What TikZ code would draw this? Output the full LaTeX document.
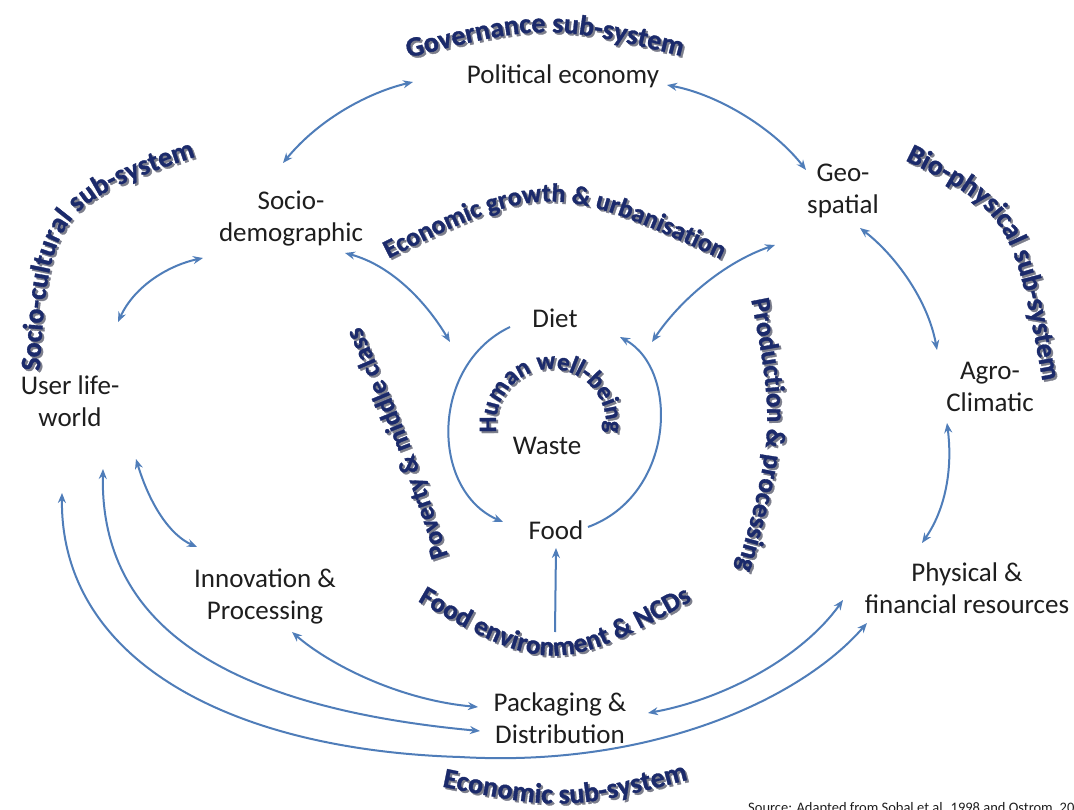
\documentclass[tikz,border=0pt]{standalone}
\usepackage{fontspec}
\setmainfont{Carlito}
\newfontfamily\headfont[BoldFeatures={FakeBold=1.2}]{Carlito}
\usetikzlibrary{arrows.meta,decorations.text}

\definecolor{linkblue}{HTML}{4F7DB9}
\definecolor{titlenavy}{HTML}{1B2A6B}
\definecolor{titleshade}{HTML}{7D7F8C}
\definecolor{labelink}{HTML}{1E1E1E}

\tikzset{
  lbl/.style={align=center, inner sep=0pt, text=labelink,
              font=\fontsize{27}{32}\selectfont},
  tiny/.style={inner sep=0pt, text=labelink, font=\fontsize{14.5}{16}\selectfont},
  link/.style={draw=linkblue, line width=2pt, {Stealth[length=10pt,width=8pt]}-{Stealth[length=10pt,width=8pt]}},
  onelink/.style={draw=linkblue, line width=2pt, -{Stealth[length=10pt,width=8pt]}},
  arctext/.style n args={3}{decorate, decoration={text along path, text align=center,
      text={|\fontsize{#1}{#1}\selectfont\headfont\bfseries\color{#2}|#3}}},
}

% curved bold heading with a soft grey drop shadow
\newcommand\archeading[3]{%
  \path[arctext={#1}{titleshade}{#2}, shift={(2,2)}] #3;
  \path[arctext={#1}{titlenavy}{#2}] #3;
}

\begin{document}
\begin{tikzpicture}[x=1pt,y=-1pt]
\clip (0,0) rectangle (1074,810);
\fill[white] (0,0) rectangle (1074,810);

% ---- components ----
\node[lbl] (pol)   at (563,76)  {Political economy};
\node[lbl] (soc)   at (291,219) {Socio-\\demographic};
\node[lbl] (geo)   at (843,191) {Geo-\\spatial};
\node[lbl] (usr)   at (70,401)  {User life-\\world};
\node[lbl] (agr)   at (990,387) {Agro-\\Climatic};
\node[lbl] (diet)  at (555,318) {Diet};
\node[lbl] (waste) at (547,446) {Waste};
\node[lbl] (food)  at (556,530) {Food};
\node[lbl] (inn)   at (265,596) {Innovation \&\\Processing};
\node[lbl] (phy)   at (967,588) {Physical \&\\financial resources};
\node[lbl] (pkg)   at (560,718) {Packaging \&\\Distribution};
\node[tiny, anchor=base west] (src) at (748,812) {Source: Adapted from Sobal et al. 1998 and Ostrom, 2009};
\coordinate (fenv) at (555,632);

% ---- sub-system headings ----
\archeading{28}{Governance sub-system}{(385,64) .. controls (545,22) .. (705,62)}
\archeading{28}{Economic sub-system}{(420,782) .. controls (565,812) .. (710,774)}
\archeading{28}{Socio-cultural sub-system}{(38,405) .. controls (48,205) .. (228,146)}
\archeading{28}{Bio-physical sub-system}{(888,152) .. controls (1012,212) .. (1046,400)}

% ---- driver headings ----
\archeading{26}{Economic growth {\&} urbanisation}{(362,272) .. controls (548,178) .. (748,272)}
\archeading{26}{Poverty {\&} middle class}{(458,585) .. controls (410,440) .. (348,298)}
\archeading{27}{Production {\&} processing}{(745,268) .. controls (777,430) .. (728,600)}
\archeading{27}{Food environment {\&} NCDs}{(385,582) .. controls (552,680) .. (725,582)}
\archeading{25}{Human well-being}{(503.4,451.5) arc[start angle=150, end angle=390, radius=55]}

% ---- outer ring ----
\draw[link] ([shift={(-8,-56)}]soc.center) .. controls (320,118) and (370,92) .. ([shift={(-150,6)}]pol.center);
\draw[link] ([shift={(104,9)}]pol.center) .. controls (720,95) and (775,130) .. ([shift={(-37,-21)}]geo.center);
\draw[link] ([shift={(48,-79)}]usr.center) .. controls (135,285) and (170,265) .. ([shift={(-88,39)}]soc.center);
\draw[link] ([shift={(17,37)}]geo.center) .. controls (895,255) and (928,300) .. ([shift={(-53,-37)}]agr.center);
\draw[link] ([shift={(-43,36)}]agr.center) .. controls (953,470) and (945,510) .. ([shift={(-45,-45)}]phy.center);

% ---- links into the core ----
\draw[link] ([shift={(54,34)}]soc.center) .. controls (390,265) and (425,300) .. ([shift={(-105,24)}]diet.center);
\draw[link] ([shift={(-68,54)}]geo.center) .. controls (725,262) and (680,300) .. ([shift={(97,24)}]diet.center);

% ---- human well-being cycle ----
\draw[onelink] ([shift={(-45,9)}]diet.center) .. controls (430,365) and (430,490) .. ([shift={(-53,-8)}]food.center);
\draw[onelink] ([shift={(32,-3)}]food.center) .. controls (675,495) and (680,370) .. ([shift={(65,19)}]diet.center);
\draw[onelink] (fenv) -- ([shift={(0,18)}]food.center);

% ---- economic ring ----
\draw[link] ([shift={(66,58)}]usr.center) .. controls (150,505) and (170,535) .. ([shift={(-68,-49)}]inn.center);
\draw[link] ([shift={(27,36)}]inn.center) .. controls (330,665) and (400,700) .. ([shift={(-82,-11)}]pkg.center);
\draw[link] ([shift={(33,68)}]usr.center) .. controls (100,610) and (200,705) .. ([shift={(-80,13)}]pkg.center);
\draw[link] ([shift={(-8,92)}]usr.center) .. controls (60,660) and (230,750) .. (460,757)
            .. controls (650,768) and (800,700) .. ([shift={(-100,35)}]phy.center);
\draw[link] ([shift={(88,-5)}]pkg.center) .. controls (720,700) and (800,660) .. ([shift={(-124,12)}]phy.center);
\end{tikzpicture}
\end{document}
